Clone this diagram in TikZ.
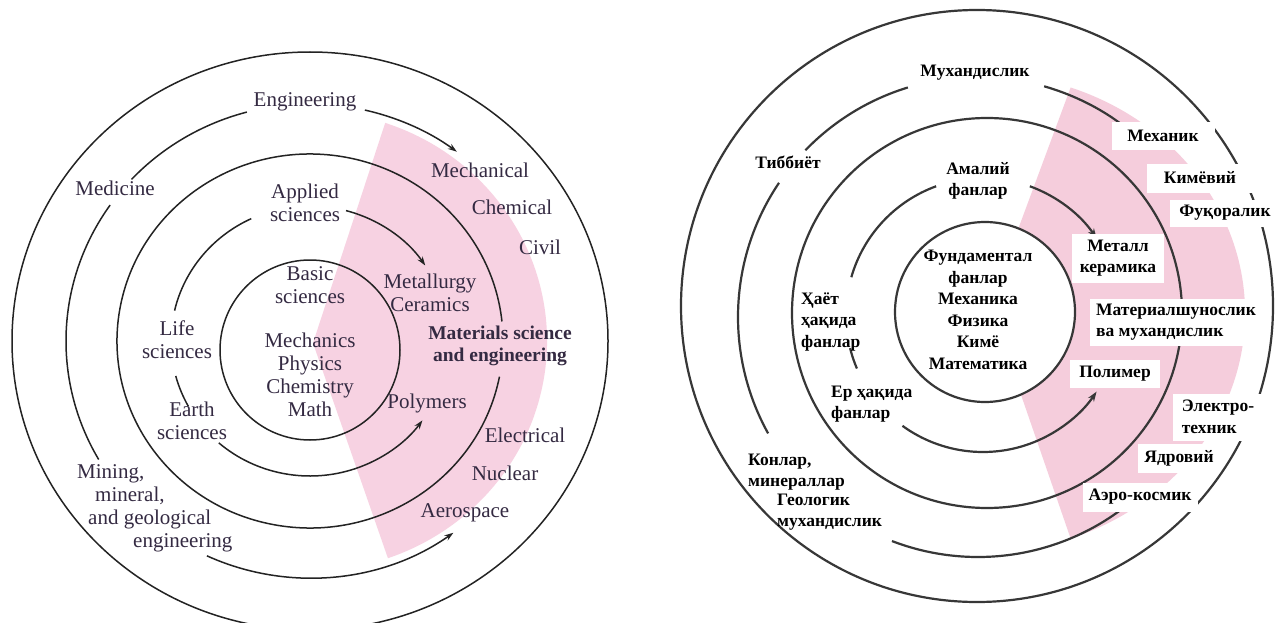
\documentclass[tikz,border=0pt]{standalone}
\usepackage{fontspec}
\setmainfont{Liberation Serif}
\usetikzlibrary{calc,arrows.meta}
\definecolor{pinkL}{RGB}{247,210,226}
\definecolor{pinkR}{RGB}{245,205,220}
\definecolor{txtL}{RGB}{52,42,66}
\definecolor{lineL}{RGB}{35,35,35}
\definecolor{lineR}{RGB}{55,55,55}
\begin{document}
\begin{tikzpicture}[x=1pt,y=-1pt,
  ringL/.style={draw=lineL, line width=1.5pt},
  ringR/.style={draw=lineR, line width=2.2pt},
  arrL/.style={-{Stealth[length=9pt,width=6pt]}},
  arrR/.style={-{Stealth[length=10pt,width=7pt]}},
  labL/.style={text=txtL, font=\fontsize{21}{23}\selectfont, align=center, inner sep=0pt},
  labR/.style={text=black, font=\bfseries\fontsize{17.5}{21.5}\selectfont, align=center, inner sep=1pt},
  boxR/.style={labR, fill=white, inner xsep=6pt, inner ysep=5pt}]
\useasboundingbox (0,0) rectangle (1287,623);
\fill[white] (0,0) rectangle (1287,623);
\clip (0,0) rectangle (1287,623);

% ================= LEFT DIAGRAM =================
\coordinate (L) at (310,341);
\coordinate (Li) at (310,350);
\fill[pinkL] (313,343) -- ($(L)+(288.5:237 and 230)$) arc[start angle=288.5,end angle=430.8,x radius=237,y radius=230] -- cycle;
\draw[ringL] (L) ellipse[x radius=298, y radius=289];
% engineering ring
\draw[ringL] ($(L)+(223:244 and 237)$) arc[start angle=223,end angle=255,x radius=244,y radius=237];
\draw[ringL,arrL] ($(L)+(283:244 and 237)$) arc[start angle=283,end angle=307,x radius=244,y radius=237];
\draw[ringL] ($(L)+(150:244 and 237)$) arc[start angle=150,end angle=215,x radius=244,y radius=237];
\draw[ringL,arrL] ($(L)+(115:244 and 237)$) arc[start angle=115,end angle=54,x radius=244,y radius=237];
% third ring
\draw[ringL] ($(L)+(11:193 and 187)$) arc[start angle=11,end angle=354,x radius=193,y radius=187];
% applied sciences ring
\draw[ringL] ($(L)+(193:139 and 135)$) arc[start angle=193,end angle=245,x radius=139,y radius=135];
\draw[ringL,arrL] ($(L)+(285:139 and 135)$) arc[start angle=285,end angle=326,x radius=139,y radius=135];
\draw[ringL] ($(L)+(151:139 and 135)$) arc[start angle=151,end angle=165,x radius=139,y radius=135];
\draw[ringL,arrL] ($(L)+(131:139 and 135)$) arc[start angle=131,end angle=36,x radius=139,y radius=135];
% inner
\draw[ringL] (Li) circle[radius=90];

\node[labL] (eng) at (305,102) {Engineering};
\node[labL] (med) at (115,188) {Medicine};
\node[labL] (app) at (305,203) {Applied\\sciences};
\node[labL] (bas) at (310,285) {Basic\\sciences};
\node[labL] (mec) at (310,375) {Mechanics\\Physics\\Chemistry\\Math};
\node[labL] (life) at (177,340) {Life\\sciences};
\node[labL] (earth) at (192,421) {Earth\\sciences};
\node[labL] (metl) at (430,293) {Metallurgy\\Ceramics};
\node[labL, font=\bfseries\fontsize{19.5}{22}\selectfont] (mse) at (500,346) {Materials science\\and engineering};
\node[labL] (poly) at (427,403) {Polymers};
\node[labL] (mech) at (480,170) {Mechanical};
\node[labL] (chem) at (512,207) {Chemical};
\node[labL] (civ) at (540,247) {Civil};
\node[labL] (elec) at (525,435) {Electrical};
\node[labL] (nuc) at (505,473) {Nuclear};
\node[labL] (aero) at (465,513) {Aerospace};
\node[labL, align=left, anchor=west] (min) at (77,508) {Mining,\\\hspace*{18pt}mineral,\\\hspace*{11pt}and geological\\\hspace*{56pt}engineering};

% ================= RIGHT DIAGRAM =================
\coordinate (Ro) at (977,306);
\coordinate (R2) at (978,317);
\coordinate (R3) at (987,313);
\coordinate (R4) at (983,315);
\coordinate (Ri) at (985,312);
\coordinate (Rp) at (980,313);
\fill[pinkR] (990,305) -- ($(Rp)+(290:265 and 240)$) arc[start angle=290,end angle=430,x radius=265,y radius=240] -- cycle;
\draw[ringR] (Ro) circle[radius=296];
% engineering ring
\draw[ringR] ($(R2)+(224:240)$) arc[start angle=224,end angle=253,radius=240];
\draw[ringR,arrR] ($(R2)+(286:240)$) arc[start angle=286,end angle=310,radius=240];
\draw[ringR] ($(R2)+(151:240)$) arc[start angle=151,end angle=214,radius=240];
\draw[ringR] ($(R2)+(111:240)$) arc[start angle=111,end angle=51,radius=240];
% third ring
\draw[ringR] (R3) circle[radius=195];
% applied ring
\draw[ringR] ($(R4)+(196:137)$) arc[start angle=196,end angle=250,radius=137];
\draw[ringR,arrR] ($(R4)+(290:137)$) arc[start angle=290,end angle=326,radius=137];
\draw[ringR] ($(R4)+(157:137)$) arc[start angle=157,end angle=166,radius=137];
\draw[ringR,arrR] ($(R4)+(126:137)$) arc[start angle=126,end angle=34,radius=137];
% inner
\draw[ringR, fill=white] (Ri) circle[radius=90];

\node[labR] (muh) at (975,73) {Мухандислик};
\node[labR] (tib) at (788,162) {Тиббиёт};
\node[labR] (ama) at (978,181) {Амалий\\фанлар};
\node[labR] (fun) at (978,310) {Фундаментал\\фанлар\\Механика\\Физика\\Кимё\\Математика};
\node[labR, align=left, anchor=west] (hay) at (800,322) {Ҳаёт\\ҳақида\\фанлар};
\node[labR, align=left, anchor=west] (er) at (830,404) {Ер ҳақида\\фанлар};
\node[labR, align=left, anchor=west] (kon) at (747,472) {Конлар,\\минераллар};
\node[labR, align=left, anchor=west] (geo) at (776,512) {Геологик\\мухандислик};

\node[boxR, minimum width=103pt, minimum height=28pt] (mexan) at (1163,136) {Механик};
\node[boxR, minimum width=106pt, minimum height=29pt] (kim) at (1200,178) {Кимёвий};
\node[boxR, minimum width=110pt, minimum height=27pt] (fuq) at (1225,213) {Фуқоралик};
\node[boxR, minimum width=92pt, minimum height=49pt] (met) at (1118,258) {Металл\\керамика};
\node[boxR, align=left, minimum width=168pt, minimum height=47pt] (mat) at (1176,322) {Материалшунослик\\ва мухандислик};
\node[boxR, minimum width=90pt, minimum height=28pt] (pol) at (1115,374) {Полимер};
\node[boxR, align=left, minimum width=90pt, minimum height=47pt] (ele) at (1218,417) {Электро-\\техник};
\node[boxR, minimum width=73pt, minimum height=29pt] (yad) at (1179,458) {Ядровий};
\node[boxR, minimum width=106pt, minimum height=29pt] (aer) at (1140,497) {Аэро-космик};
\end{tikzpicture}
\end{document}
